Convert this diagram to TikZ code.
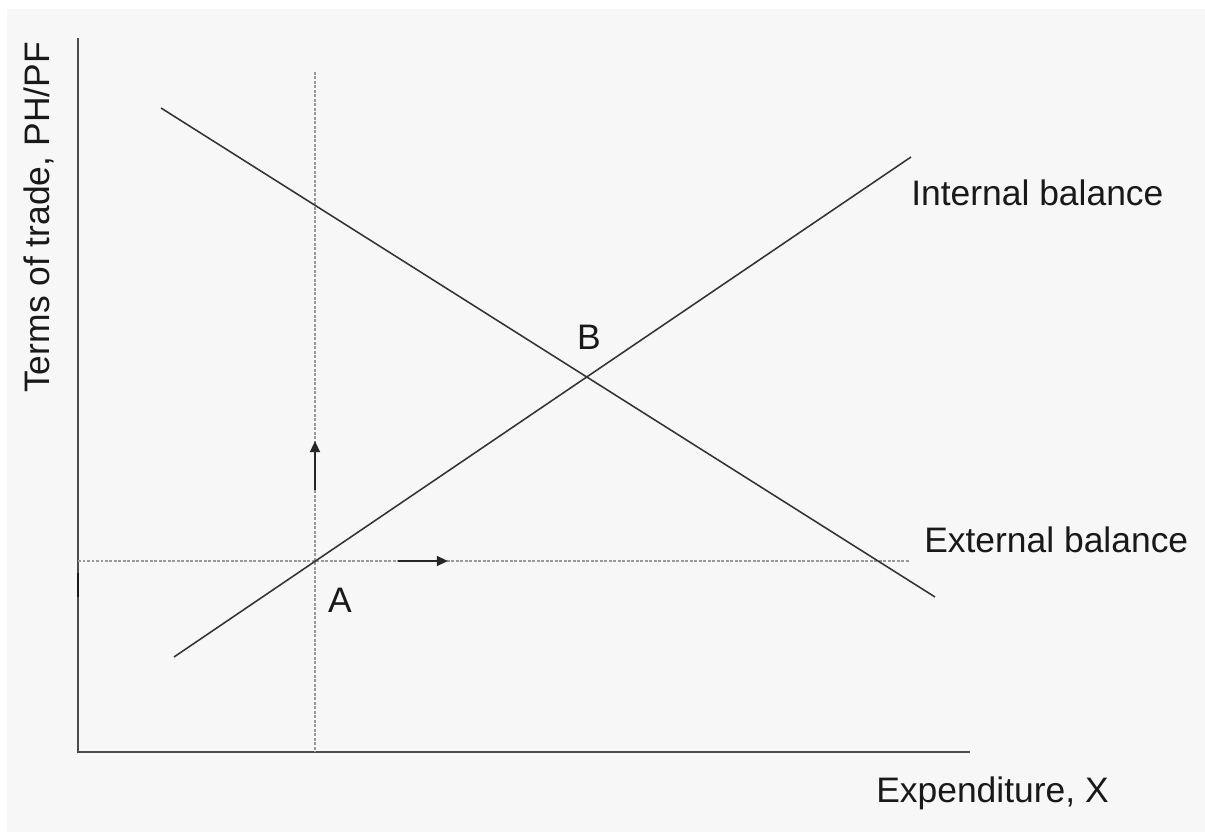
\documentclass[tikz,border=0pt]{standalone}
\usepackage{fontspec}
\setmainfont{Liberation Sans}
\usepackage{tikz}
\usetikzlibrary{arrows.meta, positioning, calc}

\begin{document}
\begin{tikzpicture}[x=0.025cm, y=-0.025cm, font=\fontsize{25.2}{30}\selectfont, >={Triangle[length=8pt,width=7pt]},
    axis/.style={draw=black!70, line width=1.4pt},
    curve/.style={draw=black!80, line width=1.1pt},
    guide/.style={draw=black!40, line width=1pt, dash pattern=on 1.8pt off 1.4pt},
    movearrow/.style={draw=black!85, line width=1.6pt, ->},
    lbl/.style={inner sep=0pt, anchor=base, text=black!90}]
    \useasboundingbox (0,0) rectangle (1205,832);
    \fill[black!3] (7,9) rectangle (1205,832);
    % axes
    \coordinate (O) at (78,752);
    \coordinate (ytop) at (78,38);
    \coordinate (xend) at (970,752);
    \draw[axis] (ytop) -- (O) -- (xend);
    \draw[black!90, line width=1.6pt] (78,573) -- (78,597);
    % guides through A
    \coordinate (A) at (315,561);
    \coordinate (vtop) at (315,72);
    \coordinate (vbot) at (315,752);
    \coordinate (hleft) at (78,561);
    \coordinate (hright) at (910,561);
    \draw[guide] (vtop) -- (vbot);
    \draw[guide] (hleft) -- (hright);
    % schedules
    \coordinate (ib1) at (174,657);
    \coordinate (ib2) at (911,157);
    \coordinate (eb1) at (161,108);
    \coordinate (eb2) at (935,597);
    \draw[curve] (ib1) -- (ib2);
    \draw[curve] (eb1) -- (eb2);
    % shifts
    \coordinate (up1) at (315,490);
    \coordinate (up2) at (315,441);
    \coordinate (rt1) at (398,561);
    \coordinate (rt2) at (448,561);
    \draw[movearrow] (up1) -- (up2);
    \draw[movearrow] (rt1) -- (rt2);
    % labels
    \node[lbl, rotate=90] (ylab) at (50,217.5) {Terms of trade, PH/PF};
    \node[lbl] (xlab) at (992.5,802) {Expenditure, X};
    \node[lbl, anchor=base west] (iblab) at (911,206) {Internal balance};
    \node[lbl, anchor=base west] (eblab) at (924,553) {External balance};
    \node[lbl] (Blab) at (589,350) {B};
    \node[lbl] (Alab) at (340,613) {A};
\end{tikzpicture}
\end{document}
